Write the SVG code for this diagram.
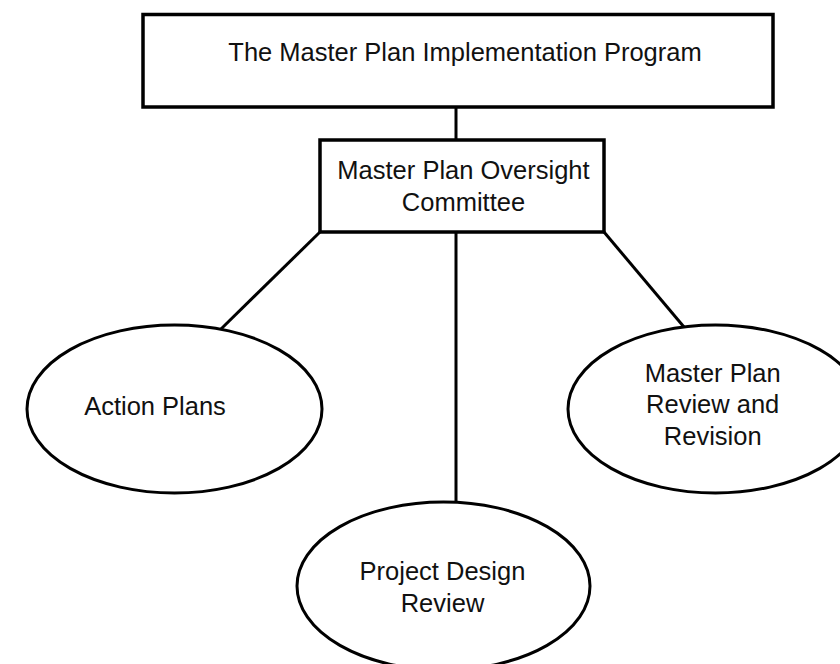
<svg xmlns="http://www.w3.org/2000/svg" width="840" height="664" viewBox="0 0 840 664">
  <style>
    .box { fill: #ffffff; stroke: #000000; stroke-width: 3.5; }
    .oval { fill: #ffffff; stroke: #000000; stroke-width: 3; }
    .link { stroke: #000000; stroke-width: 3; fill: none; }
    .label { font-family: "Liberation Sans", Arial, sans-serif; font-size: 25.5px; fill: #111111; text-anchor: middle; }
  </style>
  <rect width="840" height="664" fill="#ffffff"/>

  <!-- connectors -->
  <g id="connectors">
    <line class="link" x1="456" y1="107" x2="456" y2="140"/>
    <line class="link" x1="320" y1="232" x2="221" y2="329"/>
    <line class="link" x1="456" y1="232" x2="456" y2="505"/>
    <line class="link" x1="604" y1="232" x2="684" y2="327"/>
  </g>

  <g id="program">
    <rect class="box" x="143" y="14.5" width="630" height="92.5"/>
    <text class="label" x="465" y="61">The Master Plan Implementation Program</text>
  </g>

  <g id="committee">
    <rect class="box" x="320" y="140" width="284" height="92"/>
    <text class="label" x="463.5" y="178.5">Master Plan Oversight</text>
    <text class="label" x="463.5" y="211">Committee</text>
  </g>

  <g id="action-plans">
    <ellipse class="oval" cx="174.5" cy="409" rx="147.5" ry="84"/>
    <text class="label" x="155" y="415">Action Plans</text>
  </g>

  <g id="project-design-review">
    <ellipse class="oval" cx="443.5" cy="586" rx="146.5" ry="84"/>
    <text class="label" x="442.5" y="580">Project Design</text>
    <text class="label" x="442.5" y="611.5">Review</text>
  </g>

  <g id="plan-review-revision">
    <ellipse class="oval" cx="715.5" cy="409" rx="147.5" ry="84"/>
    <text class="label" x="712.7" y="381.7">Master Plan</text>
    <text class="label" x="712.7" y="413.3">Review and</text>
    <text class="label" x="712.7" y="445">Revision</text>
  </g>
</svg>
